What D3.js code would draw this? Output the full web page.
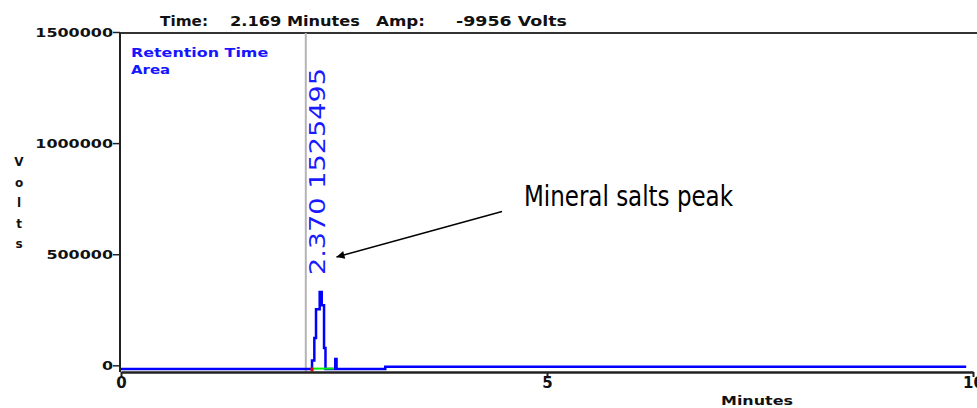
<!DOCTYPE html>
<html>
<head>
<meta charset="utf-8">
<script src="https://cdn.jsdelivr.net/npm/d3@7"></script>
<style>
  body { margin: 0; background: #fff; }
  svg { display: block; }
  text { font-family: "DejaVu Sans", sans-serif; }
</style>
</head>
<body>
<div class="chart"></div>
<script>
// trace (step plot), minutes vs volts
const times = [0, 2.242, 2.269, 2.289, 2.332, 2.356, 2.383, 2.400, 2.515, 2.530, 3.102, 9.92];
const volts = [-17000, 22000, 123000, 252000, 330000, 270000, 78000, -17000, 28000, -17000, -6000, -6000];
const integration = [2.242, 2.50];   // green baseline under the peak
const cursorTime = 2.169;
const peakLabel = '2.370  1525495';
const yTicks = [0, 500000, 1000000, 1500000];
const xTicks = [0, 5, 10];
const header = [
  { text: 'Time:', len: 48 },
  { text: '2.169 Minutes', len: 130 },
  { text: 'Amp:', len: 49 },
  { text: '-9956 Volts', len: 111 }
];
const legendLines = ['Retention Time', 'Area'];
const note = 'Mineral salts peak';

function displayGraph() {
  const w = 977;
  const h = 408;
  const xScale = d3.scaleLinear().domain([0, 10]).range([121, 973]);
  const yScale = d3.scaleLinear().domain([-30000, 1500000]).range([372, 32]);

  const svg = d3.select('.chart')
    .append('svg')
    .attr('width', w)
    .attr('height', h);

  // top border
  svg.append('line')
    .attr('x1', 120).attr('x2', w)
    .attr('y1', 33).attr('y2', 33)
    .attr('stroke', '#333').attr('stroke-width', 2);

  // cursor line
  svg.append('line')
    .attr('x1', xScale(cursorTime)).attr('x2', xScale(cursorTime))
    .attr('y1', 33).attr('y2', 372)
    .attr('stroke', '#b4b4b4').attr('stroke-width', 2);

  // trace
  const line = d3.line()
    .x((d, i) => xScale(times[i]))
    .y((d) => yScale(d))
    .curve(d3.curveStepAfter);
  svg.append('path')
    .datum(volts)
    .attr('d', line)
    .attr('fill', 'none')
    .attr('stroke', '#0000ff')
    .attr('stroke-width', 2.5);

  // integration baseline
  svg.append('line')
    .attr('x1', xScale(integration[0])).attr('x2', xScale(integration[1]))
    .attr('y1', yScale(volts[0]) - 0.5).attr('y2', yScale(volts[0]) - 0.5)
    .attr('stroke', '#00ee00').attr('stroke-width', 2);
  svg.append('rect')
    .attr('x', xScale(integration[0]) - 1.5).attr('y', yScale(volts[0]) - 1.5)
    .attr('width', 3).attr('height', 4)
    .attr('fill', '#ee0000');

  // axes
  const yAxis = svg.append('g')
    .attr('class', 'y-axis')
    .attr('transform', 'translate(120, 0)')
    .call(d3.axisLeft(yScale).tickValues(yTicks).tickSize(7).tickSizeOuter(0).tickFormat(d3.format('d')));
  yAxis.select('.domain').attr('stroke', '#222').attr('stroke-width', 2)
    .attr('d', 'M0,33V372');
  yAxis.selectAll('.tick line').attr('stroke', '#222').attr('stroke-width', 1.5);
  yAxis.selectAll('text')
    .attr('x', -7)
    .attr('font-size', 13)
    .attr('font-weight', 'bold')
    .attr('fill', '#111')
    .attr('textLength', (d) => String(d).length * 11.1)
    .attr('lengthAdjust', 'spacingAndGlyphs');

  const xAxis = svg.append('g')
    .attr('class', 'x-axis')
    .attr('transform', 'translate(0, 372)')
    .call(d3.axisBottom(xScale).tickValues(xTicks).tickSize(5).tickSizeOuter(0));
  xAxis.select('.domain').attr('stroke', '#222').attr('stroke-width', 2.5);
  xAxis.selectAll('.tick line').attr('stroke', '#222').attr('stroke-width', 2);
  xAxis.selectAll('text')
    .attr('y', 5)
    .attr('font-size', 15)
    .attr('font-weight', 'bold')
    .attr('fill', '#111');

  // axis titles
  svg.append('text')
    .attr('x', 721).attr('y', 405)
    .attr('font-size', 13).attr('font-weight', 'bold').attr('fill', '#111')
    .attr('textLength', 72).attr('lengthAdjust', 'spacingAndGlyphs')
    .text('Minutes');
  svg.append('g').selectAll('text')
    .data('Volts'.split(''))
    .join('text')
    .attr('x', 19)
    .attr('y', (d, i) => 166 + i * 20.5)
    .attr('text-anchor', 'middle')
    .attr('font-size', 12).attr('font-weight', 'bold').attr('fill', '#111')
    .text((d) => d);

  // header
  const hx = [160, 230, 376, 456];
  svg.append('g').selectAll('text')
    .data(header)
    .join('text')
    .attr('x', (d, i) => hx[i])
    .attr('y', 26)
    .attr('font-size', 14).attr('font-weight', 'bold').attr('fill', '#111')
    .attr('textLength', (d) => d.len).attr('lengthAdjust', 'spacingAndGlyphs')
    .text((d) => d.text);

  // legend
  svg.append('g').selectAll('text')
    .data(legendLines)
    .join('text')
    .attr('x', 131)
    .attr('y', (d, i) => 57 + i * 17)
    .attr('font-size', 12).attr('font-weight', 'bold').attr('fill', '#1515ff')
    .attr('textLength', (d) => d.length * 9.8).attr('lengthAdjust', 'spacingAndGlyphs')
    .text((d) => d);

  // peak label
  svg.append('text')
    .attr('transform', 'translate(325, 275) rotate(-90)')
    .attr('font-size', 21).attr('fill', '#1a1aff')
    .attr('textLength', 207).attr('lengthAdjust', 'spacingAndGlyphs')
    .text(peakLabel);

  // annotation
  svg.append('defs').append('marker')
    .attr('id', 'arrow')
    .attr('viewBox', '0 0 10 10')
    .attr('refX', 10).attr('refY', 5)
    .attr('markerWidth', 10).attr('markerHeight', 8)
    .attr('markerUnits', 'userSpaceOnUse')
    .attr('orient', 'auto')
    .append('path')
    .attr('d', 'M0,0L10,5L0,10Z')
    .attr('fill', '#000');
  svg.append('line')
    .attr('x1', 502).attr('y1', 211.5)
    .attr('x2', 336.5).attr('y2', 257)
    .attr('stroke', '#000').attr('stroke-width', 1.5)
    .attr('marker-end', 'url(#arrow)');
  svg.append('text')
    .attr('x', 524).attr('y', 206)
    .attr('font-family', '"Liberation Sans", Arial, sans-serif')
    .attr('font-size', 29).attr('fill', '#000')
    .attr('textLength', 209).attr('lengthAdjust', 'spacingAndGlyphs')
    .text(note);
}

displayGraph();
</script>
</body>
</html>
